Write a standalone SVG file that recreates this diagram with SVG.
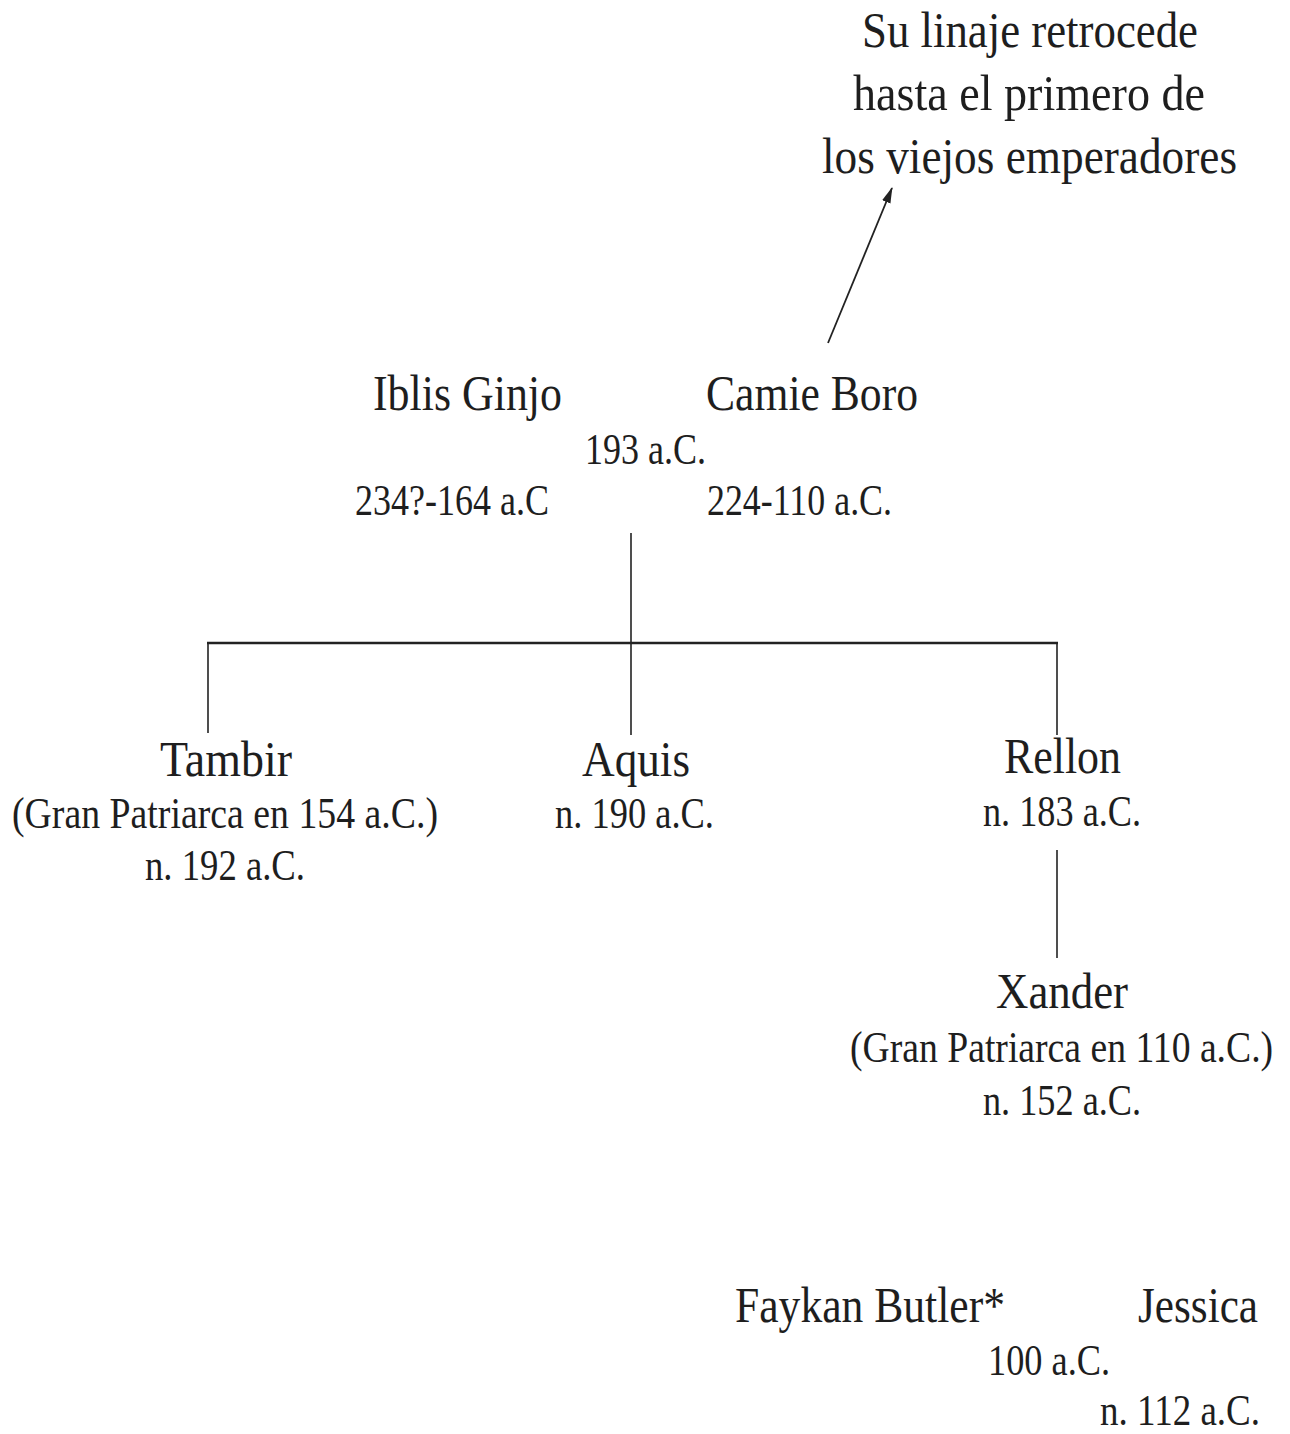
<svg xmlns="http://www.w3.org/2000/svg" width="1290" height="1434" viewBox="0 0 1290 1434">
<style>
text{font-family:"Liberation Serif","DejaVu Serif",serif;fill:#1e1e1e}
.n{font-size:50px}
.d{font-size:44px}
.c{stroke:#222;stroke-width:1.6;fill:none}
</style>
<defs>
<marker id="ah" viewBox="0 0 16 10" refX="15" refY="5" markerWidth="16" markerHeight="10" markerUnits="userSpaceOnUse" orient="auto"><path d="M0,0.5 L16,5 L0,9.5 Z" fill="#222"/></marker>
</defs>
<rect width="1290" height="1434" fill="#fff"/>
<g id="connectors">
<line class="c" x1="828" y1="343" x2="892" y2="188" marker-end="url(#ah)" style="stroke-width:1.8"/>
<line class="c" x1="631" y1="533" x2="631" y2="735"/>
<line class="c" x1="207" y1="643" x2="1058" y2="643" style="stroke-width:2.4"/>
<line class="c" x1="208" y1="643" x2="208" y2="733"/>
<line class="c" x1="1057" y1="643" x2="1057" y2="735"/>
<line class="c" x1="1057" y1="850" x2="1057" y2="958"/>
</g>
<g id="note">
<text class="n" x="862" y="47" textLength="336" lengthAdjust="spacingAndGlyphs">Su linaje retrocede</text>
<text class="n" x="853" y="110" textLength="352" lengthAdjust="spacingAndGlyphs">hasta el primero de</text>
<text class="n" x="822" y="173" textLength="415" lengthAdjust="spacingAndGlyphs">los viejos emperadores</text>
</g>
<g id="iblis">
<text class="n" x="373" y="410" textLength="189" lengthAdjust="spacingAndGlyphs">Iblis Ginjo</text>
<text class="d" x="355" y="515" textLength="194" lengthAdjust="spacingAndGlyphs">234?-164 a.C</text>
</g>
<g id="camie">
<text class="n" x="706" y="410" textLength="212" lengthAdjust="spacingAndGlyphs">Camie Boro</text>
<text class="d" x="707" y="515" textLength="185" lengthAdjust="spacingAndGlyphs">224-110 a.C.</text>
</g>
<g id="marriage1">
<text class="d" x="585" y="464" textLength="121" lengthAdjust="spacingAndGlyphs">193 a.C.</text>
</g>
<g id="tambir">
<text class="n" x="160" y="776" textLength="132" lengthAdjust="spacingAndGlyphs">Tambir</text>
<text class="d" x="12" y="828" textLength="426" lengthAdjust="spacingAndGlyphs">(Gran Patriarca en 154 a.C.)</text>
<text class="d" x="145" y="880" textLength="160" lengthAdjust="spacingAndGlyphs">n. 192 a.C.</text>
</g>
<g id="aquis">
<text class="n" x="582" y="776" textLength="108" lengthAdjust="spacingAndGlyphs">Aquis</text>
<text class="d" x="555" y="828" textLength="159" lengthAdjust="spacingAndGlyphs">n. 190 a.C.</text>
</g>
<g id="rellon">
<text class="n" x="1004" y="773" textLength="117" lengthAdjust="spacingAndGlyphs">Rellon</text>
<text class="d" x="983" y="826" textLength="158" lengthAdjust="spacingAndGlyphs">n. 183 a.C.</text>
</g>
<g id="xander">
<text class="n" x="996" y="1008" textLength="132" lengthAdjust="spacingAndGlyphs">Xander</text>
<text class="d" transform="translate(850,1062) scale(0.86,1)" x="0" y="0" textLength="492" lengthAdjust="spacingAndGlyphs">(Gran Patriarca en 110 a.C.)</text>
<text class="d" x="983" y="1115" textLength="158" lengthAdjust="spacingAndGlyphs">n. 152 a.C.</text>
</g>
<g id="faykan">
<text class="n" x="735" y="1322" textLength="270" lengthAdjust="spacingAndGlyphs">Faykan Butler*</text>
</g>
<g id="jessica">
<text class="n" x="1138" y="1322" textLength="120" lengthAdjust="spacingAndGlyphs">Jessica</text>
<text class="d" x="1100" y="1425" textLength="160" lengthAdjust="spacingAndGlyphs">n. 112 a.C.</text>
</g>
<g id="marriage2">
<text class="d" x="988" y="1375" textLength="122" lengthAdjust="spacingAndGlyphs">100 a.C.</text>
</g>
</svg>
